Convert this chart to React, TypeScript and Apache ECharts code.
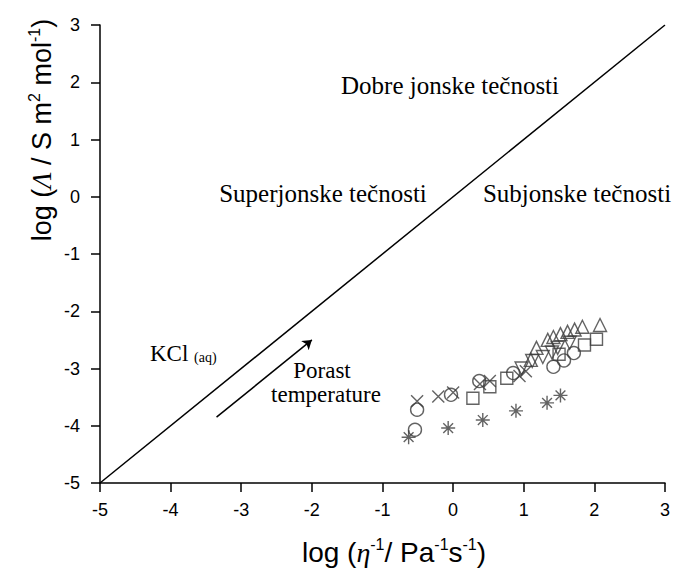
import React, { useEffect, useRef } from "react";
import * as echarts from "echarts";

// axis
const axisMin = -5;
const axisMax = 3;
const axisStep = 1;

// reference line log Λ = log η^-1 (ideal KCl line)
const idealLine = [
  [-5, -5],
  [3, 3],
];

// "Porast temperature" arrow (data coords)
const arrowStart = [-3.35, -3.85];
const arrowEnd = [-2.0, -2.5];

// data series
const crosses = [
  [-0.51, -3.57], [-0.21, -3.49], [0.0, -3.42], [0.38, -3.27], [0.52, -3.22], [0.94, -3.13], [1.03, -3.05],
];
const circles = [
  [-0.54, -4.07], [-0.51, -3.72], [-0.03, -3.46], [0.37, -3.22], [0.85, -3.08], [1.42, -2.97], [1.57, -2.86], [1.71, -2.73],
];
const asterisks = [
  [-0.63, -4.2], [-0.07, -4.04], [0.42, -3.9], [0.89, -3.74], [1.33, -3.6], [1.52, -3.47],
];
const squares = [
  [0.28, -3.52], [0.52, -3.32], [0.76, -3.17], [1.5, -2.75], [1.86, -2.59], [2.03, -2.49],
];
const trianglesDown = [
  [0.97, -3.0], [1.12, -2.87], [1.27, -2.8], [1.4, -2.72], [1.48, -2.64], [1.65, -2.55],
];
const trianglesUp = [
  [1.1, -2.85], [1.18, -2.64], [1.34, -2.5], [1.42, -2.45], [1.52, -2.4], [1.62, -2.36], [1.72, -2.32], [1.83, -2.27], [2.08, -2.24],
];

const markColor = "#3c3c3c";
const crossPath = "path://M0,0L10,10M10,0L0,10";
const asteriskPath = "path://M5,0L5,10M0,5L10,5M1.5,1.5L8.5,8.5M8.5,1.5L1.5,8.5";

function scatter(name: string, data: number[][], symbol: string, size: number, rotate = 0) {
  return {
    name,
    type: "scatter",
    data,
    symbol,
    symbolSize: size,
    symbolRotate: rotate,
    itemStyle: { color: "transparent", borderColor: markColor, borderWidth: 1.4 },
    z: 3,
  };
}

export default function App() {
  const ref = useRef<HTMLDivElement>(null);
  useEffect(() => {
    if (!ref.current) return;
    const chart = echarts.init(ref.current, null, { renderer: "svg" });
    const sans = "Liberation Sans, Arial, sans-serif";
    const serif = "Liberation Serif, Times New Roman, serif";
    const centered = { align: "center", verticalAlign: "middle", textAlign: "center", textVerticalAlign: "middle" };
    chart.setOption({
      animation: false,
      backgroundColor: "#fff",
      grid: { left: 100, right: 6, top: 25, bottom: 85 },
      xAxis: {
        type: "value",
        min: axisMin,
        max: axisMax,
        interval: axisStep,
        axisLine: { onZero: false, lineStyle: { color: "#000", width: 1.5 } },
        axisTick: { inside: false, length: 9, lineStyle: { color: "#000", width: 1.5 } },
        axisLabel: { color: "#000", fontSize: 18, fontFamily: sans, margin: 18 },
        splitLine: { show: false },
      },
      yAxis: {
        type: "value",
        min: axisMin,
        max: axisMax,
        interval: axisStep,
        axisLine: { onZero: false, lineStyle: { color: "#000", width: 1.5 } },
        axisTick: { inside: false, length: 9, lineStyle: { color: "#000", width: 1.5 } },
        axisLabel: { color: "#000", fontSize: 18, fontFamily: sans, margin: 20 },
        splitLine: { show: false },
      },
      series: [
        {
          type: "line",
          data: idealLine,
          symbol: "none",
          lineStyle: { color: "#000", width: 1.5 },
          z: 2,
        },
        {
          type: "lines",
          coordinateSystem: "cartesian2d",
          data: [{ coords: [arrowStart, arrowEnd] }],
          symbol: ["none", "arrow"],
          symbolSize: 9,
          lineStyle: { color: "#000", width: 1.5, opacity: 1 },
          z: 2,
        },
        scatter("cross", crosses, crossPath, 12),
        scatter("circle", circles, "circle", 13),
        scatter("asterisk", asterisks, asteriskPath, 14),
        scatter("square", squares, "rect", 12),
        scatter("triangleDown", trianglesDown, "triangle", 13, 180),
        scatter("triangleUp", trianglesUp, "triangle", 13),
      ],
      graphic: [
        {
          type: "text",
          x: 42,
          y: 130,
          rotation: Math.PI / 2,
          style: {
            text: "log ({it|Λ} / S m{sup|2} mol{sup|-1})",
            fill: "#000",
            fontSize: 27,
            fontFamily: sans,
            ...centered,
            rich: {
              it: { fontSize: 27, fontFamily: serif, fontStyle: "italic", lineHeight: 31, fill: "#000" },
              sup: { fontSize: 16, verticalAlign: "top", lineHeight: 16, fontFamily: sans, fill: "#000" },
            },
          },
        },
        {
          type: "text",
          x: 394,
          y: 552,
          style: {
            text: "log ({it|η}{sup|-1}/ Pa{sup|-1}s{sup|-1})",
            fill: "#000",
            fontSize: 28,
            fontFamily: sans,
            ...centered,
            rich: {
              it: { fontSize: 28, fontFamily: serif, fontStyle: "italic", lineHeight: 32, fill: "#000" },
              sup: { fontSize: 16, verticalAlign: "top", lineHeight: 16, fontFamily: sans, fill: "#000" },
            },
          },
        },
        {
          type: "text",
          x: 450,
          y: 85,
          style: { text: "Dobre jonske tečnosti", fill: "#000", fontSize: 25, fontFamily: serif, ...centered },
        },
        {
          type: "text",
          x: 323,
          y: 193,
          style: { text: "Superjonske tečnosti", fill: "#000", fontSize: 25, fontFamily: serif, ...centered },
        },
        {
          type: "text",
          x: 577,
          y: 193,
          style: { text: "Subjonske tečnosti", fill: "#000", fontSize: 25, fontFamily: serif, ...centered },
        },
        {
          type: "text",
          x: 150,
          y: 353,
          style: {
            text: "KCl {sub|(aq)}",
            fill: "#000",
            fontSize: 23,
            fontFamily: serif,
            align: "left",
            verticalAlign: "middle",
            textAlign: "left",
            textVerticalAlign: "middle",
            rich: { sub: { fontSize: 14, fontFamily: serif, verticalAlign: "bottom", lineHeight: 14, fill: "#000" } },
          },
        },
        {
          type: "text",
          x: 322,
          y: 370,
          style: { text: "Porast", fill: "#000", fontSize: 23, fontFamily: serif, ...centered },
        },
        {
          type: "text",
          x: 326,
          y: 394,
          style: { text: "temperature", fill: "#000", fontSize: 23, fontFamily: serif, ...centered },
        },
      ],
    });
    return () => chart.dispose();
  }, []);
  return <div ref={ref} style={{ position: "fixed", left: 0, top: 0, width: 673, height: 568 }} />;
}
